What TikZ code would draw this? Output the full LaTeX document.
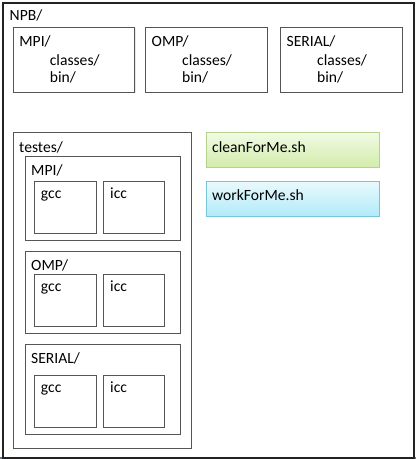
\documentclass[tikz,border=0pt]{standalone}
\usepackage{fontspec}
\setmainfont{Carlito}
\usetikzlibrary{positioning, shadows}

\definecolor{framedark}{HTML}{222222}
\definecolor{edgegray}{HTML}{555555}
\definecolor{stripgray}{HTML}{6E7A88}
\definecolor{greentop}{HTML}{F1FAE4}
\definecolor{greenbot}{HTML}{D2ECAA}
\definecolor{greenedge}{HTML}{B6D28C}
\definecolor{bluetop}{HTML}{E9F9FD}
\definecolor{bluebot}{HTML}{B0EAF8}
\definecolor{blueedge}{HTML}{78C4DA}

\begin{document}
\begin{tikzpicture}[x=1pt, y=-1pt,
	dirbox/.style={draw=edgegray, line width=1.1pt, fill=white, anchor=north west, inner sep=0pt,
		drop shadow={opacity=0.18, shadow xshift=0.8pt, shadow yshift=-0.8pt}},
	scriptbox/.style={dirbox, minimum width=173pt, minimum height=35pt},
	txt/.style={anchor=base west, inner sep=0pt, font=\fontsize{15.6}{18}\selectfont}]
	\useasboundingbox (0,0) rectangle (416,459);
	\fill[stripgray] (0,457) rectangle (416,459);
	% outer folder
	\node[draw=framedark, line width=1.6pt, anchor=north west, inner sep=0pt,
		minimum width=411pt, minimum height=455pt] (npb) at (2,2) {};
	\node[txt] (npblbl) at ([xshift=7.5pt, yshift=-18pt]npb.north west) {NPB/};
	% source folders
	\foreach \nm/\x/\txt in {mpi/12.7/MPI, omp/145/OMP, serial/280/SERIAL}
	{
		\node[dirbox, minimum width=121.5pt, minimum height=65pt] (src\nm) at (\x,27) {};
		\node[txt] (src\nm lbl) at ([xshift=6.5pt, yshift=-19pt]src\nm.north west) {\txt/};
		\node[txt] (src\nm cls) at ([xshift=37pt, yshift=-38pt]src\nm.north west) {classes/};
		\node[txt] (src\nm bin) at ([xshift=37pt, yshift=-55pt]src\nm.north west) {bin/};
	}
	% tests folder
	\node[dirbox, minimum width=178pt, minimum height=316pt] (testes) at (12.7,132) {};
	\node[txt] (testeslbl) at ([xshift=6.3pt, yshift=-20pt]testes.north west) {testes/};
	\foreach \nm/\y/\h/\g/\txt in {mpi/156/84/25/MPI, omp/251/82/23/OMP, serial/344/90/31/SERIAL}
	{
		\node[dirbox, minimum width=155pt, minimum height=\h pt] (run\nm) at (25,\y) {};
		\node[txt] (run\nm lbl) at ([xshift=6pt, yshift=-19pt]run\nm.north west) {\txt/};
		\node[dirbox, minimum width=62pt, minimum height=52pt] (run\nm gcc) at (34,\y+\g) {};
		\node[dirbox, minimum width=61pt, minimum height=52pt] (run\nm icc) at (103,\y+\g) {};
		\node[txt] at ([xshift=6.7pt, yshift=-17.5pt]run\nm gcc.north west) {gcc};
		\node[txt] at ([xshift=7pt, yshift=-17.5pt]run\nm icc.north west) {icc};
	}
	% scripts
	\node[scriptbox, draw=greenedge, top color=greentop, bottom color=greenbot] (clean) at (206,132) {};
	\node[txt] (cleanlbl) at ([xshift=6pt, yshift=-20pt]clean.north west) {cleanForMe.sh};
	\node[scriptbox, draw=blueedge, top color=bluetop, bottom color=bluebot] (work) at (206,181) {};
	\node[txt] (worklbl) at ([xshift=6pt, yshift=-19pt]work.north west) {workForMe.sh};
\end{tikzpicture}
\end{document}
